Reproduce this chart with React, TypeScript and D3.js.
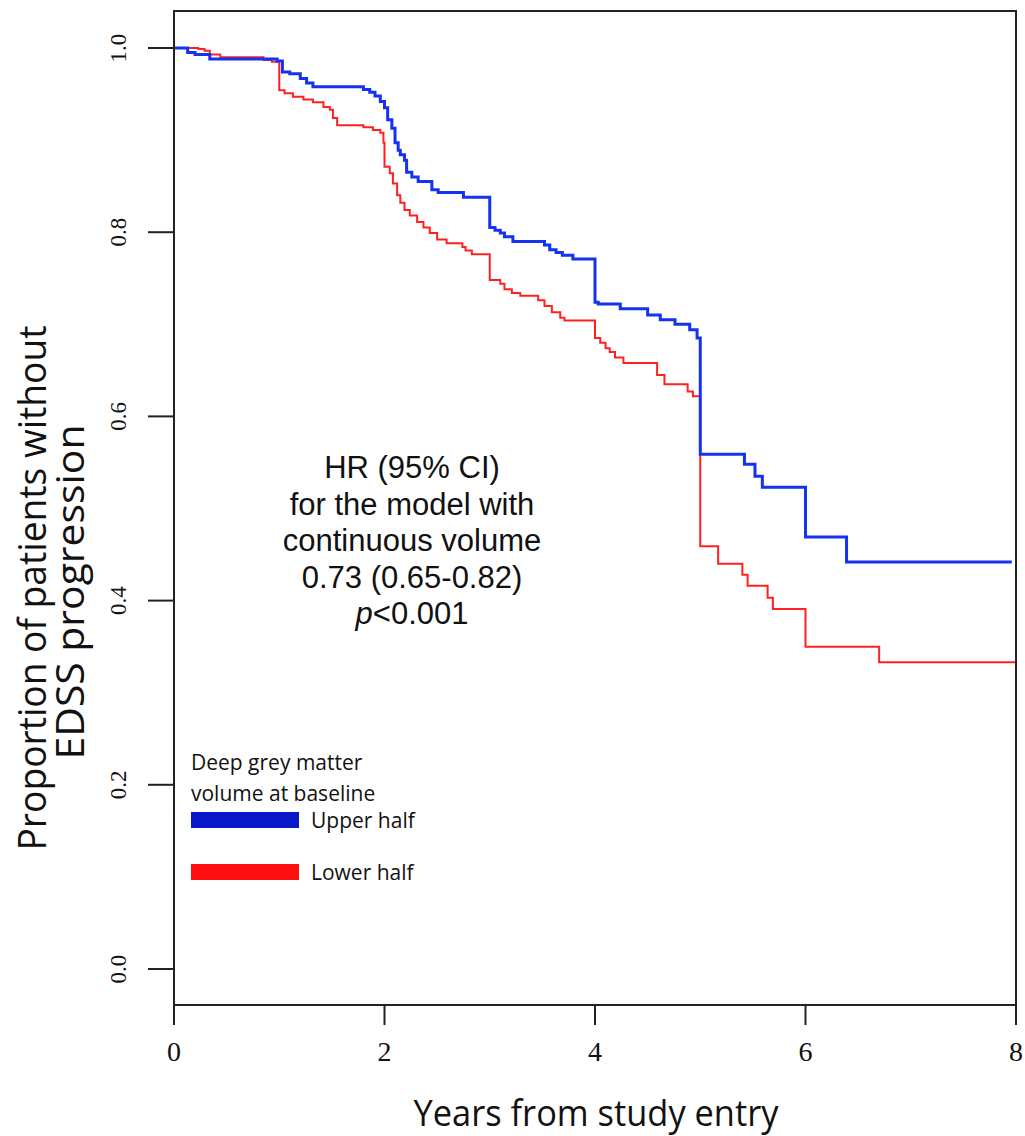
import React from "react";
import * as d3 from "d3";

const blueTimes = [0, 0.13, 0.2, 0.34, 0.98, 1.03, 1.1, 1.2, 1.26, 1.32, 1.8, 1.86, 1.91, 1.96, 2.0, 2.03, 2.07, 2.1, 2.13, 2.15, 2.19, 2.21, 2.26, 2.32, 2.45, 2.51, 2.75, 3.0, 3.05, 3.1, 3.14, 3.22, 3.52, 3.57, 3.63, 3.69, 3.79, 4.0, 4.03, 4.24, 4.5, 4.62, 4.76, 4.9, 4.97, 5.0, 5.42, 5.52, 5.59, 6.0, 6.39, 7.96];
const blueSurv = [1.0, 0.995, 0.993, 0.988, 0.986, 0.974, 0.972, 0.967, 0.962, 0.958, 0.955, 0.952, 0.948, 0.942, 0.935, 0.922, 0.913, 0.897, 0.889, 0.884, 0.878, 0.865, 0.86, 0.855, 0.846, 0.843, 0.838, 0.805, 0.802, 0.799, 0.795, 0.79, 0.786, 0.781, 0.778, 0.775, 0.771, 0.724, 0.722, 0.717, 0.71, 0.705, 0.7, 0.694, 0.685, 0.559, 0.548, 0.535, 0.523, 0.469, 0.442, 0.442];

const redTimes = [0, 0.23, 0.29, 0.34, 0.44, 0.85, 0.93, 1.0, 1.05, 1.13, 1.23, 1.32, 1.42, 1.48, 1.51, 1.55, 1.8, 1.89, 1.96, 1.99, 2.0, 2.05, 2.08, 2.12, 2.15, 2.19, 2.24, 2.31, 2.37, 2.43, 2.5, 2.59, 2.74, 2.77, 2.83, 3.0, 3.1, 3.14, 3.21, 3.29, 3.46, 3.52, 3.59, 3.67, 3.71, 4.0, 4.05, 4.1, 4.14, 4.19, 4.27, 4.59, 4.66, 4.88, 4.93, 5.0, 5.17, 5.4, 5.45, 5.64, 5.69, 6.0, 6.7, 8.0];
const redSurv = [1.0, 0.999, 0.997, 0.993, 0.99, 0.987, 0.985, 0.954, 0.951, 0.947, 0.944, 0.941, 0.936, 0.933, 0.924, 0.916, 0.914, 0.911, 0.908, 0.897, 0.871, 0.864, 0.853, 0.84, 0.832, 0.824, 0.818, 0.811, 0.805, 0.799, 0.792, 0.788, 0.784, 0.78, 0.776, 0.748, 0.744, 0.738, 0.734, 0.731, 0.726, 0.72, 0.713, 0.707, 0.704, 0.685, 0.68, 0.674, 0.67, 0.664, 0.658, 0.645, 0.635, 0.627, 0.622, 0.459, 0.44, 0.428, 0.416, 0.403, 0.391, 0.35, 0.333, 0.333];

const xTicks = [0, 2, 4, 6, 8];
const yTicks = [0, 0.2, 0.4, 0.6, 0.8, 1.0];
const annotationLines = ["HR (95% CI)", "for the model with", "continuous volume", "0.73 (0.65-0.82)"];
const legendTitle = ["Deep grey matter", "volume at baseline"];
const legendLabels = ["Upper half", "Lower half"];

const BLUE = "#1432f0";
const RED = "#ff2020";
const LEG_COLORS = ["#0818c8", "#ff1010"];

export default function App() {
  const W = 1025, H = 1136;
  const left = 174, right = 1016, top = 11, bottom = 1005;
  const x = d3.scaleLinear().domain([0, 8]).range([174, 1016]);
  const y = d3.scaleLinear().domain([0, 1]).range([969, 48]);
  const line = d3
    .line<[number, number]>()
    .x((d) => x(d[0]))
    .y((d) => y(d[1]))
    .curve(d3.curveStepAfter);
  const blue = line(blueTimes.map((t, i) => [t, blueSurv[i]]) as [number, number][]) || "";
  const red = line(redTimes.map((t, i) => [t, redSurv[i]]) as [number, number][]) || "";
  const sans = "'Open Sans', 'Noto Sans', sans-serif";
  const serif = "'Liberation Serif', 'DejaVu Serif', serif";
  const helv = "'Liberation Sans', Arial, sans-serif";

  return (
    <div style={{ position: "absolute", left: 0, top: 0 }}>
      <svg width={W} height={H} style={{ display: "block", background: "#fff" }}>
        <rect x={0} y={0} width={W} height={H} fill="#fff" />
        {/* curves */}
        <path d={red} fill="none" stroke={RED} strokeWidth={2} />
        <path d={blue} fill="none" stroke={BLUE} strokeWidth={3} />
        {/* frame */}
        <rect x={left} y={top} width={right - left} height={bottom - top} fill="none" stroke="#222" strokeWidth={2} />
        {/* y axis ticks */}
        {yTicks.map((t) => (
          <g key={"y" + t}>
            <line x1={148} x2={left} y1={y(t)} y2={y(t)} stroke="#222" strokeWidth={2} />
            <text
              transform={`translate(126,${y(t)}) rotate(-90)`}
              textAnchor="middle"
              fontFamily={serif}
              fontSize={23}
              fill="#111"
            >
              {t.toFixed(1)}
            </text>
          </g>
        ))}
        {/* x axis ticks */}
        {xTicks.map((t) => (
          <g key={"x" + t}>
            <line x1={x(t)} x2={x(t)} y1={bottom} y2={1025} stroke="#222" strokeWidth={2} />
            <text x={x(t)} y={1061} textAnchor="middle" fontFamily={serif} fontSize={28} fill="#111">
              {t}
            </text>
          </g>
        ))}
        {/* axis titles */}
        <text x={596} y={1126} textAnchor="middle" fontFamily={sans} fontSize={36} fill="#111" textLength={365} lengthAdjust="spacingAndGlyphs">
          Years from study entry
        </text>
        <text transform="translate(46,588) rotate(-90)" textAnchor="middle" fontFamily={sans} fontSize={38} fill="#111" textLength={525} lengthAdjust="spacingAndGlyphs">
          Proportion of patients without
        </text>
        <text transform="translate(84,592) rotate(-90)" textAnchor="middle" fontFamily={sans} fontSize={38} fill="#111" textLength={335} lengthAdjust="spacingAndGlyphs">
          EDSS progression
        </text>
        {/* annotation */}
        {annotationLines.map((s, i) => (
          <text key={s} x={412} y={478 + i * 36.5} textAnchor="middle" fontFamily={helv} fontSize={31} fill="#111">
            {s}
          </text>
        ))}
        <text x={412} y={478 + 4 * 36.5} textAnchor="middle" fontFamily={helv} fontSize={31} fill="#111">
          <tspan fontStyle="italic">p</tspan>
          <tspan>&lt;0.001</tspan>
        </text>
        {/* legend */}
        {legendTitle.map((s, i) => (
          <text key={s} x={191} y={770 + i * 31} fontFamily={sans} fontSize={21} fill="#111">
            {s}
          </text>
        ))}
        {legendLabels.map((s, i) => (
          <g key={s}>
            <rect x={191} y={812 + i * 52} width={108} height={16} fill={LEG_COLORS[i]} />
            <text x={311} y={828 + i * 52} fontFamily={sans} fontSize={21} fill="#111">
              {s}
            </text>
          </g>
        ))}
      </svg>
    </div>
  );
}
